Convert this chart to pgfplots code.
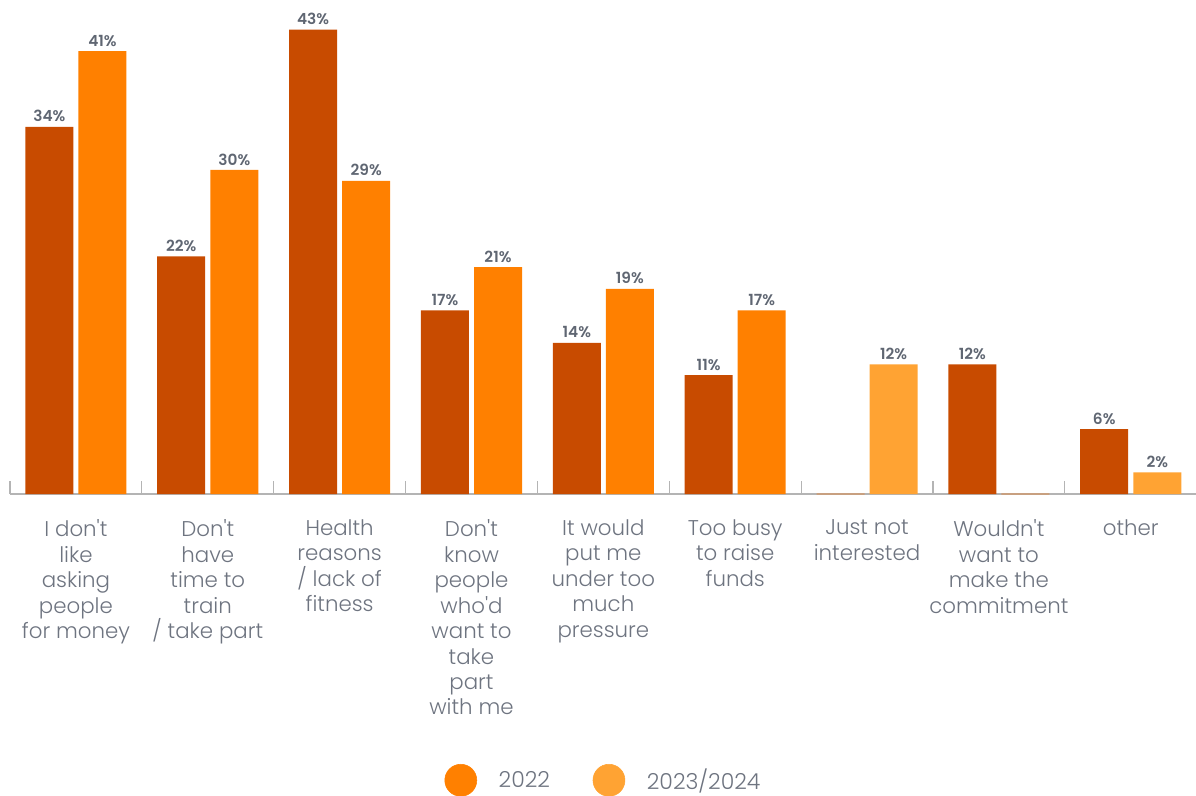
\documentclass[border=0pt]{standalone}
\usepackage{pgfplots}
\pgfplotsset{compat=1.18}
\usepackage{fontspec}
\setmainfont{Poppins}[Ligatures=TeXOff, UprightFont=* Light, BoldFont=* SemiBold]
\definecolor{dark}{HTML}{C84B00}
\definecolor{mid}{HTML}{FF8000}
\definecolor{light}{HTML}{FFA333}
\definecolor{lbl}{HTML}{5F6672}
\definecolor{tick}{HTML}{6E7480}
\definecolor{axisgray}{HTML}{B4B4B4}
\definecolor{zeroline}{HTML}{C8A080}
\begin{document}
\begin{tikzpicture}
\begin{axis}[
  scale only axis,
  width=890pt, height=364.5pt,
  xmin=-0.5, xmax=8.5, ymin=0, ymax=45,
  axis x line*=bottom, axis y line=none,
  x axis line style={axisgray, line width=1.1pt, -},
  xtick={0,...,8},
  xtick style={draw=none},
  extra x ticks={-0.5,0.5,...,8.5},
  extra x tick labels={},
  extra x tick style={xtick style={draw=axisgray, line width=0.9pt}, major tick length=9.75pt, tick align=inside},
  xticklabels={
    {I don't\\like\\asking\\people\\for money},
    {Don't\\have\\time to\\train\\/ take part},
    {Health\\reasons\\/ lack of\\fitness},
    {Don't\\know\\people\\who'd\\want to\\take\\part\\with me},
    {It would\\put me\\under too\\much\\pressure},
    {Too busy\\to raise\\funds},
    {Just not\\interested},
    {Wouldn't\\want to\\make the\\commitment},
    {other}},
  xticklabel style={align=center, text=tick, font=\fontsize{16}{19.1}\selectfont, yshift=-11.5pt},
  ybar=3.75pt, bar width=36pt,
  clip=false,
  nodes near coords={\pgfmathprintnumber[assume math mode=true]{\pgfplotspointmeta}\%},
  every node near coord/.append style={text=lbl, font=\fontsize{11.5}{13}\selectfont\bfseries, anchor=south, yshift=0pt},
  legend columns=2,
  legend style={draw=none, at={(0.5004,-0.589)}, anchor=center, font=\fontsize{16.5}{18}\selectfont, text=tick, column sep=30pt},
  legend image code/.code={\fill[#1] (0pt,0pt) circle (12pt);},
]
\addlegendimage{mid}
\addlegendentry{\hspace{-15.75pt}2022}
\addlegendimage{light}
\addlegendentry{\hspace{-15.75pt}2023/2024}
\addplot[fill=dark, draw=none, bar shift=-19.9pt, forget plot] coordinates {(0,34) (1,22) (2,43) (3,17) (4,14) (5,11) (7,12) (8,6)};
\addplot[fill=mid, draw=none, bar shift=19.9pt, forget plot] coordinates {(0,41) (1,30) (2,29) (3,21) (4,19) (5,17)};
\addplot[fill=light, draw=none, bar shift=19.9pt, forget plot] coordinates {(6,12) (8,2)};
\addplot[draw=zeroline, fill=none, line width=0.8pt, bar shift=-19.9pt, nodes near coords={}, forget plot] coordinates {(6,0)};
\addplot[draw=zeroline, fill=none, line width=0.8pt, bar shift=19.9pt, nodes near coords={}, forget plot] coordinates {(7,0)};
\end{axis}
\pgfresetboundingbox
\useasboundingbox (-7.5pt,-226.5pt) rectangle (889.5pt,370.5pt);
\end{tikzpicture}
\end{document}
